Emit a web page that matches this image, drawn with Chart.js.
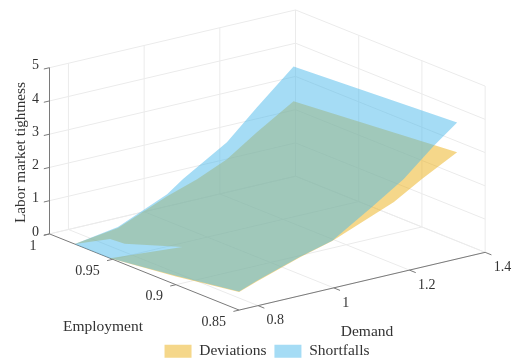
<!DOCTYPE html>
<html>
<head>
<meta charset="utf-8">
<style>
  html, body { margin: 0; padding: 0; background: #fff; }
  canvas { display: block; }
</style>
<script src="https://cdn.jsdelivr.net/npm/chart.js@4"></script>
</head>
<body>
<canvas id="chart" width="514" height="360"></canvas>
<script>
// outline of each surface: one entry per outline point
const deviationsDemand = [0.75, 0.864, 0.994, 1.073, 1.152, 1.231, 1.328, 1.326, 1.233, 1.159, 0.996, 0.911, 0.798, 0.75, 0.75, 0.75, 0.917, 0.835, 0.83];
const deviationsEmployment = [0.98, 0.98, 0.98, 0.98, 0.98, 0.98, 0.98, 0.85, 0.85, 0.85, 0.85, 0.85, 0.85, 0.85, 0.9, 0.952, 0.945, 0.966, 0.976];
const deviationsTightness = [0, 0.18, 0.79, 1.09, 1.48, 2.08, 2.75, 3.21, 2.65, 2.16, 1.42, 1.16, 0.74, 0.54, 0.25, 0, 0, 0, 0];

const shortfallsDemand = [0.75, 0.864, 0.994, 1.036, 1.152, 1.231, 1.328, 1.326, 1.264, 1.185, 1.101, 0.996, 0.911, 0.798, 0.75, 0.75, 0.75];
const shortfallsEmployment = [0.98, 0.98, 0.98, 0.98, 0.98, 0.98, 0.98, 0.85, 0.85, 0.85, 0.85, 0.85, 0.85, 0.85, 0.85, 0.9, 0.952];
const shortfallsTightness = [0, 0.21, 0.85, 1.19, 1.99, 2.82, 3.8, 4.1, 3.56, 2.78, 2.16, 1.43, 1.17, 0.76, 0.56, 0.27, 0];

// axes
const demandTicks = [0.8, 1, 1.2, 1.4];
const employmentTicks = [0.85, 0.9, 0.95, 1];
const tightnessTicks = [0, 1, 2, 3, 4, 5];
const demandStart = 0.75;

// fixed 3d view, gives page position for a (demand, employment, tightness) point
function project(d, e, z) {
    return {
        x: 49.5 + (d - demandStart) * 378.5 + (1 - e) * 1264,
        y: 235 - (d - demandStart) * 89.25 + (1 - e) * 510 - z * 33.4
    };
}

function outline(ds, es, zs) {
    return ds.map((d, i) => project(d, es[i], zs[i]));
}

// polylines with a NaN point between them, so they stay one dataset
function polylines(list) {
    const pts = [];
    list.forEach(([a, b]) => {
        pts.push(project(...a), project(...b), { x: NaN, y: NaN });
    });
    return pts;
}

const demandEnd = demandTicks[demandTicks.length - 1];
const gridLines = [];
demandTicks.forEach(d => {
    gridLines.push([[d, 0.85, 0], [d, 1, 0]]);
    gridLines.push([[d, 1, 0], [d, 1, 5]]);
});
employmentTicks.forEach(e => {
    gridLines.push([[demandStart, e, 0], [demandEnd, e, 0]]);
    gridLines.push([[demandEnd, e, 0], [demandEnd, e, 5]]);
});
tightnessTicks.forEach(z => {
    gridLines.push([[demandStart, 1, z], [demandEnd, 1, z]]);
    gridLines.push([[demandEnd, 1, z], [demandEnd, 0.85, z]]);
});

const axisLines = [
    [[demandStart, 1, 0], [demandStart, 1, 5]],
    [[demandStart, 1, 0], [demandStart, 0.85, 0]],
    [[demandStart, 0.85, 0], [demandEnd, 0.85, 0]]
];
tightnessTicks.forEach(z => axisLines.push([[demandStart, 1, z], [demandStart - 0.015, 1, z]]));
employmentTicks.forEach(e => axisLines.push([[demandStart, e, 0], [demandStart - 0.015, e, 0]]));
demandTicks.forEach(d => axisLines.push([[d, 0.85, 0], [d, 0.845, 0]]));

const serif = '"Liberation Serif", "Times New Roman", serif';
const textColor = '#333333';

// tick and axis titles sit off the axes, Chart.js has no 3d scales for them
const axisText = {
    id: 'axisText',
    afterLayout(chart) {
        // move legend under the plot, slightly right of center like the original
        chart.legend.top += 9;
        chart.legend.bottom += 9;
        chart.legend.left += 10;
        chart.legend.right += 10;
    },
    afterDraw(chart) {
        const { ctx, scales } = chart;
        const put = (text, p, dx, dy, align) => {
            ctx.textAlign = align;
            ctx.fillText(text, scales.x.getPixelForValue(p.x) + dx, scales.y.getPixelForValue(p.y) + dy);
        };
        ctx.save();
        ctx.fillStyle = textColor;
        ctx.textBaseline = 'middle';
        ctx.font = '14px ' + serif;
        tightnessTicks.forEach(z => put(String(z), project(demandStart, 1, z), -10.5, -2, 'right'));
        employmentTicks.forEach(e => put(String(e), project(demandStart, e, 0), -13, 12, 'right'));
        demandTicks.forEach(d => put(String(d), project(d, 0.85, 0), 8.5, 15, 'left'));

        ctx.font = '15.5px ' + serif;
        ctx.textAlign = 'center';
        ctx.fillText('Employment', 103, 327);
        ctx.fillText('Demand', 367, 331.5);
        ctx.translate(20.5, 152.5);
        ctx.rotate(-Math.PI / 2);
        ctx.font = '15.3px ' + serif;
        ctx.fillText('Labor market tightness', 0, 0);
        ctx.restore();
    }
};

new Chart(document.getElementById('chart'), {
    type: 'scatter',
    data: {
        datasets: [
            {
                label: 'Deviations',
                data: outline(deviationsDemand, deviationsEmployment, deviationsTightness),
                showLine: true, fill: 'shape', tension: 0, pointRadius: 0, borderWidth: 0,
                backgroundColor: 'rgba(236,176,22,0.5)', borderColor: 'rgba(0,0,0,0)',
                order: 1
            },
            {
                label: 'Shortfalls',
                data: outline(shortfallsDemand, shortfallsEmployment, shortfallsTightness),
                showLine: true, fill: 'shape', tension: 0, pointRadius: 0, borderWidth: 0,
                backgroundColor: 'rgba(75,185,236,0.5)', borderColor: 'rgba(0,0,0,0)',
                order: 0
            },
            {
                data: polylines(axisLines),
                showLine: true, pointRadius: 0, borderWidth: 1, borderColor: '#7a7a7a',
                order: 2
            },
            {
                data: polylines(gridLines),
                showLine: true, pointRadius: 0, borderWidth: 1, borderColor: '#ebebeb',
                order: 3
            }
        ]
    },
    options: {
        responsive: false,
        animation: false,
        events: [],
        scales: {
            x: { display: false, min: 0, max: 514 },
            y: { display: false, min: 0, max: 328, reverse: true }
        },
        plugins: {
            tooltip: { enabled: false },
            legend: {
                position: 'bottom',
                labels: {
                    filter: item => item.datasetIndex < 2,
                    sort: (a, b) => a.datasetIndex - b.datasetIndex,
                    boxWidth: 27,
                    boxHeight: 13,
                    padding: 8,
                    color: textColor,
                    font: { family: serif, size: 15.5 }
                }
            }
        }
    },
    plugins: [axisText]
});
</script>
</body>
</html>
